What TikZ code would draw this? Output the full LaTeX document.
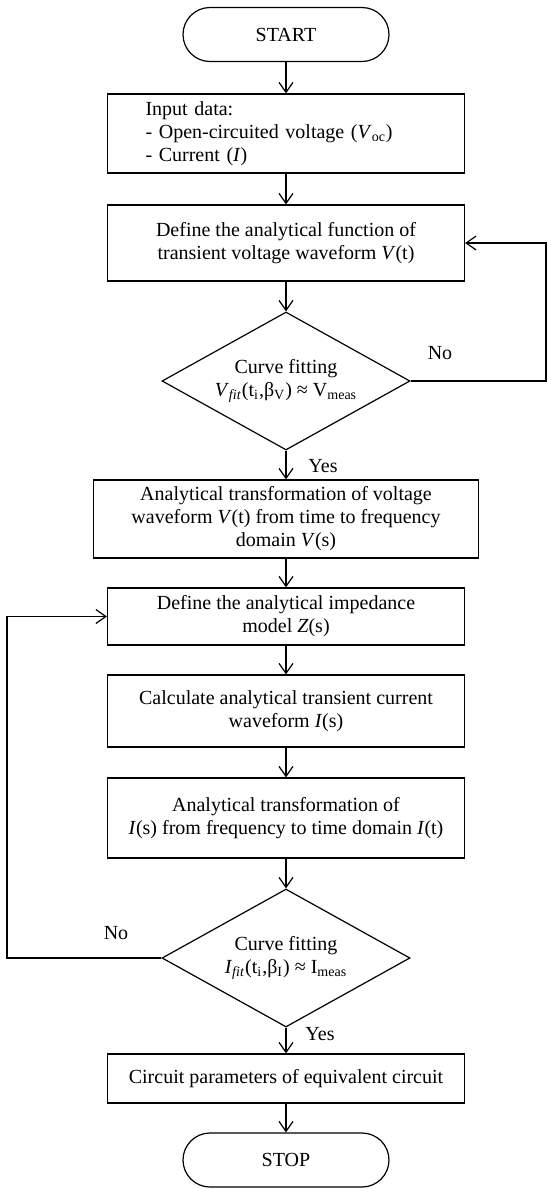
\documentclass[tikz,border=0pt]{standalone}
\usepackage{fontspec}
\setmainfont{Liberation Serif}
\usepackage{tikz}
\usetikzlibrary{arrows.meta,shapes.geometric}
\tikzset{
	flow/.style={line width=0.6pt},
	arr/.style={flow, -{Straight Barb[length=5pt,width=7pt]}},
	terminal/.style={draw, flow, rounded corners=13.5pt, minimum width=103pt, minimum height=27pt, inner sep=0pt},
	block/.style={draw, flow, align=center, minimum width=178.5pt, inner sep=0pt},
	decision/.style={draw, flow, diamond, shape aspect=1.8, align=center, minimum width=124pt, minimum height=69pt, inner sep=0pt},
	lbl/.style={inner sep=0pt}
}
\begin{document}
\begin{tikzpicture}[x=0.5pt, y=-0.5pt, font=\fontsize{10}{11.5}\selectfont]
			%%%%% START %%%%%
			\useasboundingbox (0, 0) rectangle (547, 1189);
			
			\node[terminal] (start) at (286, 34.5) {START};
			\node[block, minimum height=39.5pt, text width=140.5pt, align=left, inner xsep=19pt] (input) at (286, 133.5) {Input data:\\- Open-circuited voltage (\textit{V}\textsubscript{oc})\\- Current (\textit{I})};
			\node[block, minimum height=38pt] (defv) at (286, 243) {Define the analytical function of\\transient voltage waveform \textit{V}(t)};
			\node[decision] (fitv) at (286, 381) {Curve fitting\\\textit{V}\textsubscript{\textit{fit}}(t\textsubscript{i},β\textsubscript{V}) ≈ V\textsubscript{meas}};
			
			\node[block, minimum width=192.5pt, minimum height=39pt] (lapv) at (286, 519) {Analytical transformation of voltage\\waveform \textit{V}(t) from time to frequency\\domain \textit{V}(s)};
			\node[block, minimum height=28.5pt] (imp) at (286, 616.5) {Define the analytical impedance\\model \textit{Z}(s)};
			\node[block, minimum height=36pt] (calci) at (286, 711) {Calculate analytical transient current\\waveform \textit{I}(s)};
			\node[block, minimum height=40pt] (invi) at (286, 818) {Analytical transformation of\\\textit{I}(s) from frequency to time domain \textit{I}(t)};
			\node[decision] (fiti) at (286, 958) {Curve fitting\\\textit{I}\textsubscript{\textit{fit}}(t\textsubscript{i},β\textsubscript{I}) ≈ I\textsubscript{meas}};
			\node[block, minimum height=24.5pt] (params) at (286, 1078.5) {Circuit parameters of equivalent circuit};
			\node[terminal] (stop) at (286, 1160) {STOP};
			
			% labels
			\node[lbl] (nov) at (440, 353) {No};
			\node[lbl] (yesv) at (323, 466) {Yes};
			\node[lbl] (noi) at (116, 933) {No};
			\node[lbl] (yesi) at (320, 1034) {Yes};
			
			% main line
			\draw[arr] (start) -- (input);
			\draw[arr] (input) -- (defv);
			\draw[arr] (defv) -- (fitv);
			\draw[arr] (fitv) -- (lapv);
			\draw[arr] (lapv) -- (imp);
			\draw[arr] (imp) -- (calci);
			\draw[arr] (calci) -- (invi);
			\draw[arr] (invi) -- (fiti);
			\draw[arr] (fiti) -- (params);
			\draw[arr] (params) -- (stop);
			
			% loops back
			\coordinate (redge) at (546, 381);
			\coordinate (ledge) at (7, 958);
			\draw[arr] (fitv.east) -- (redge) |- (defv.east);
			\draw[arr] (fiti.west) -- (ledge) |- (imp.west);
			
			%%%%% END %%%%%
\end{tikzpicture}
\end{document}
